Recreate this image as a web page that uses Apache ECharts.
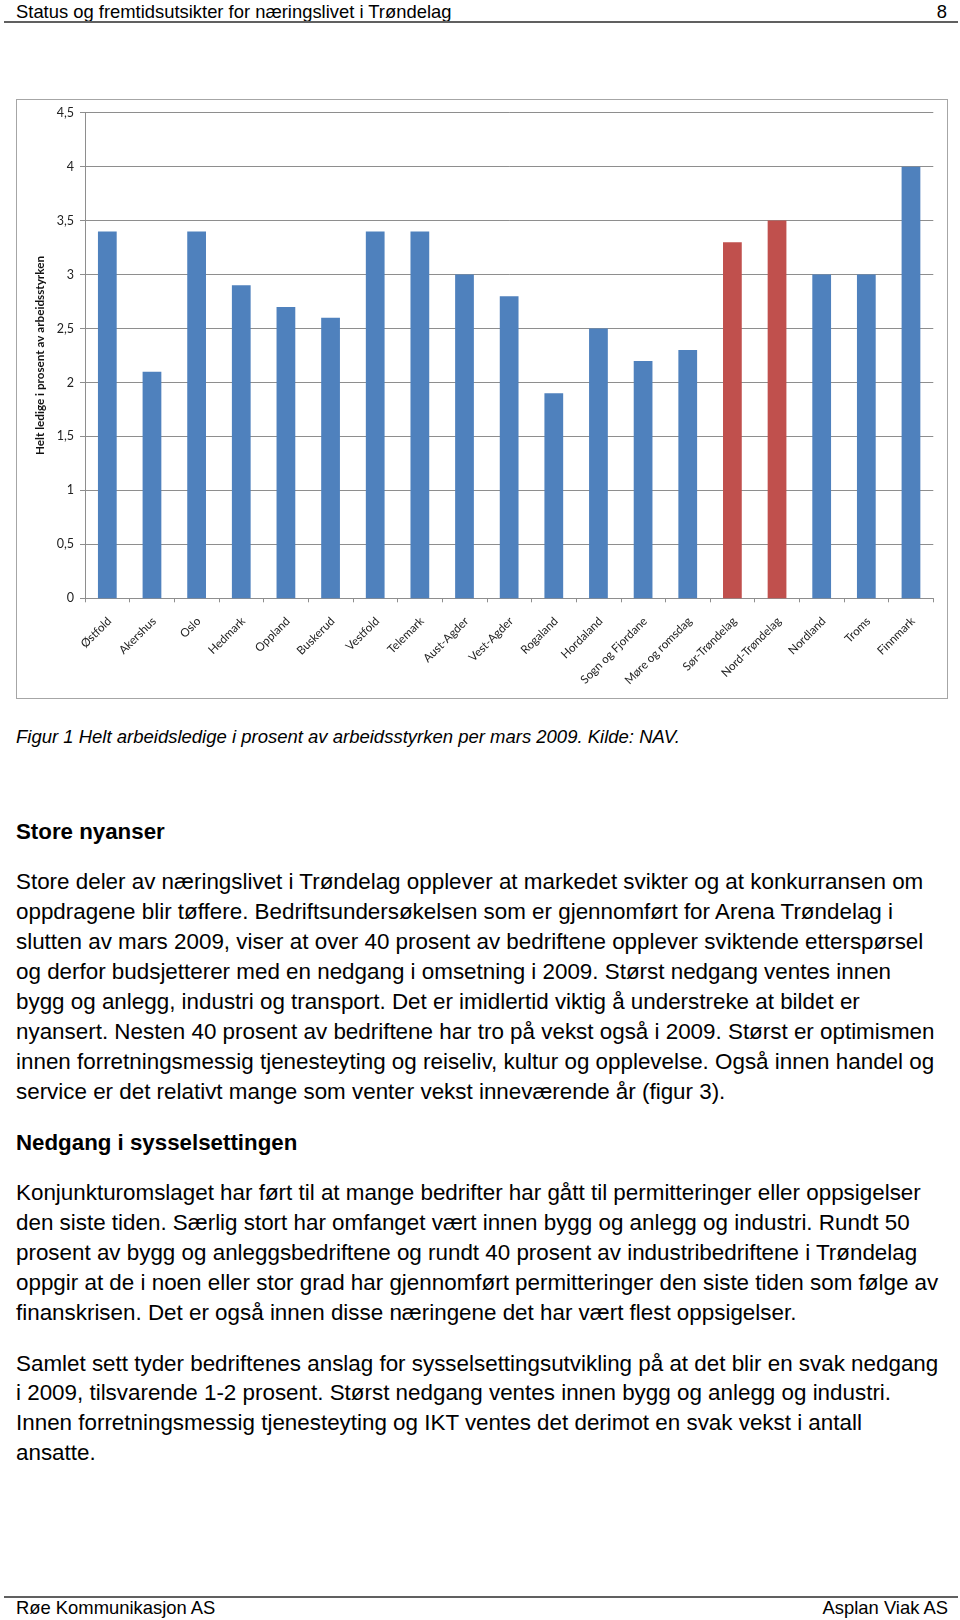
<!DOCTYPE html>
<html>
<head>
<meta charset="utf-8">
<script src="https://cdn.jsdelivr.net/npm/echarts@6/dist/echarts.min.js"></script>
<style>
  html, body { margin: 0; padding: 0; background: #fff; }
  body { width: 960px; height: 1620px; position: relative; overflow: hidden; font-family: "Liberation Sans", Arial, sans-serif; color: #000; }
  .ln { position: absolute; white-space: nowrap; }
  .hr { position: absolute; background: #606060; }
  #chart { position: absolute; left: 16px; top: 99px; width: 932px; height: 600px; box-sizing: border-box; border: 1px solid #a6a6a6; }
</style>
</head>
<body>
<div id="page"></div>
<div id="chart"></div>
<script>
// ---------- data ----------
const categories = ['Østfold','Akershus','Oslo','Hedmark','Oppland','Buskerud','Vestfold','Telemark','Aust-Agder','Vest-Agder','Rogaland','Hordaland','Sogn og Fjordane','Møre og romsdag','Sør-Trøndelag','Nord-Trøndelag','Nordland','Troms','Finnmark'];
const unemployment = [3.4, 2.1, 3.4, 2.9, 2.7, 2.6, 3.4, 3.4, 3.0, 2.8, 1.9, 2.5, 2.2, 2.3, 3.3, 3.5, 3.0, 3.0, 4.0];
const highlighted = ['Sør-Trøndelag','Nord-Trøndelag'];
const yTicks = [0, 0.5, 1, 1.5, 2, 2.5, 3, 3.5, 4, 4.5];
const yAxisName = 'Helt ledige i prosent av arbeidsstyrken';

const headerTitle = 'Status og fremtidsutsikter for næringslivet i Trøndelag';
const pageNumber = '8';
const caption = 'Figur 1 Helt arbeidsledige i prosent av arbeidsstyrken per mars 2009. Kilde: NAV.';
const heading1 = 'Store nyanser';
const para1 = [
  'Store deler av næringslivet i Trøndelag opplever at markedet svikter og at konkurransen om',
  'oppdragene blir tøffere. Bedriftsundersøkelsen som er gjennomført for Arena Trøndelag i',
  'slutten av mars 2009, viser at over 40 prosent av bedriftene opplever sviktende etterspørsel',
  'og derfor budsjetterer med en nedgang i omsetning i 2009. Størst nedgang ventes innen',
  'bygg og anlegg, industri og transport. Det er imidlertid viktig å understreke at bildet er',
  'nyansert. Nesten 40 prosent av bedriftene har tro på vekst også i 2009. Størst er optimismen',
  'innen forretningsmessig tjenesteyting og reiseliv, kultur og opplevelse. Også innen handel og',
  'service er det relativt mange som venter vekst inneværende år (figur 3).'
];
const heading2 = 'Nedgang i sysselsettingen';
const para2 = [
  'Konjunkturomslaget har ført til at mange bedrifter har gått til permitteringer eller oppsigelser',
  'den siste tiden. Særlig stort har omfanget vært innen bygg og anlegg og industri. Rundt 50',
  'prosent av bygg og anleggsbedriftene og rundt 40 prosent av industribedriftene i Trøndelag',
  'oppgir at de i noen eller stor grad har gjennomført permitteringer den siste tiden som følge av',
  'finanskrisen. Det er også innen disse næringene det har vært flest oppsigelser.'
];
const para3 = [
  'Samlet sett tyder bedriftenes anslag for sysselsettingsutvikling på at det blir en svak nedgang',
  'i 2009, tilsvarende 1-2 prosent. Størst nedgang ventes innen bygg og anlegg og industri.',
  'Innen forretningsmessig tjenesteyting og IKT ventes det derimot en svak vekst i antall',
  'ansatte.'
];
const footerLeft = 'Røe Kommunikasjon AS';
const footerRight = 'Asplan Viak AS';

// ---------- page text ----------
const page = document.getElementById('page');
function addLine(text, cy, size, opts) {
  opts = opts || {};
  const d = document.createElement('div');
  d.className = 'ln';
  d.textContent = text;
  const lh = Math.round(size * 1.2);
  d.style.fontSize = size + 'px';
  d.style.lineHeight = lh + 'px';
  d.style.top = (cy - lh / 2) + 'px';
  if (opts.right != null) d.style.right = opts.right + 'px'; else d.style.left = (opts.left != null ? opts.left : 16) + 'px';
  if (opts.bold) d.style.fontWeight = 'bold';
  if (opts.italic) d.style.fontStyle = 'italic';
  page.appendChild(d);
}
function addRule(y, h) {
  const d = document.createElement('div');
  d.className = 'hr';
  d.style.left = '4px'; d.style.width = '954px';
  d.style.top = y + 'px'; d.style.height = h + 'px';
  page.appendChild(d);
}
addLine(headerTitle, 11.5, 18.4);
addLine(pageNumber, 11.5, 18.4, { right: 13 });
addRule(21, 1.5);
addLine(caption, 737, 18.5, { italic: true });
addLine(heading1, 831, 22.3, { bold: true });
para1.forEach((t, i) => addLine(t, 881.5 + i * 29.95, 22.4));
addLine(heading2, 1142, 22.3, { bold: true });
para2.forEach((t, i) => addLine(t, 1192.5 + i * 29.95, 22.4));
para3.forEach((t, i) => addLine(t, 1363 + i * 29.95, 22.4));
addRule(1596, 1.5);
addLine(footerLeft, 1608, 18.4);
addLine(footerRight, 1608, 18.4, { right: 12 });

// ---------- chart ----------
const chart = echarts.init(document.getElementById('chart'), null, { renderer: 'canvas' });
const gridColor = '#8e8e8e';
const labelFont = 'Lato, "Open Sans", sans-serif';
chart.setOption({
  animation: false,
  grid: { left: 68, top: 12.7, right: 13.7, bottom: 99.7, containLabel: false },
  xAxis: {
    type: 'category',
    data: categories,
    boundaryGap: true,
    axisLine: { show: true, lineStyle: { color: gridColor, width: 1 } },
    axisTick: { show: true, alignWithLabel: false, length: 4, lineStyle: { color: gridColor } },
    axisLabel: { interval: 0, rotate: 45, margin: 23, padding: [0, -3, 0, 0], color: '#222', fontSize: 11.6, fontFamily: labelFont }
  },
  yAxis: {
    type: 'value',
    min: yTicks[0],
    max: yTicks[yTicks.length - 1],
    interval: yTicks[1] - yTicks[0],
    name: yAxisName,
    nameLocation: 'middle',
    nameRotate: 90,
    nameGap: 38,
    nameTextStyle: { fontWeight: 'bold', fontSize: 11.7, color: '#111', fontFamily: labelFont },
    axisLine: { show: true, lineStyle: { color: gridColor, width: 1 } },
    axisTick: { show: true, length: 5, lineStyle: { color: gridColor } },
    axisLabel: { color: '#222', fontSize: 12.5, margin: 11, fontFamily: labelFont, formatter: v => String(v).replace('.', ',') },
    splitLine: { show: true, lineStyle: { color: gridColor, width: 1 } }
  },
  series: [{
    type: 'bar',
    barWidth: '42%',
    data: unemployment.map((v, i) => ({
      value: v,
      itemStyle: { color: highlighted.includes(categories[i]) ? '#C0504D' : '#4F81BD' }
    }))
  }]
});
</script>
</body>
</html>
